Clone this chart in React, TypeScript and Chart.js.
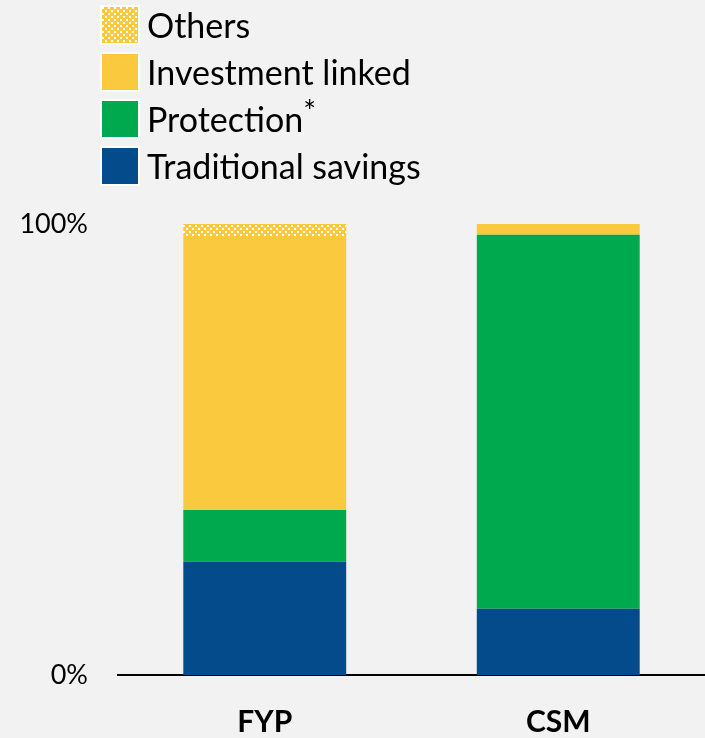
import React, { useEffect, useRef } from "react";
import { Chart, registerables } from "chart.js";

Chart.register(...registerables);

const categories = ["FYP", "CSM"];
const traditionalSavings = [25.1, 14.7];
const protection = [11.5, 82.9];
const investmentLinked = [60.5, 2.4];
const others = [2.9, 0];
const yTicks = [0, 100];

const BLUE = "#034b8b";
const GREEN = "#00a84e";
const YELLOW = "#fbc93d";
const BG = "#f2f2f2";
const FONT = "Lato, 'Open Sans', sans-serif";

function makePatternCanvas(): HTMLCanvasElement {
  const c = document.createElement("canvas");
  c.width = 6;
  c.height = 6;
  const ctx = c.getContext("2d")!;
  ctx.fillStyle = YELLOW;
  ctx.fillRect(0, 0, 6, 6);
  ctx.fillStyle = "#ffffff";
  ctx.fillRect(0, 0, 2, 2);
  ctx.fillRect(3, 3, 2, 2);
  return c;
}

export default function App() {
  const canvasRef = useRef<HTMLCanvasElement | null>(null);
  const othersBoxRef = useRef<HTMLDivElement | null>(null);

  useEffect(() => {
    document.body.style.margin = "0";
    document.body.style.background = BG;
    const patCanvas = makePatternCanvas();
    if (othersBoxRef.current) {
      othersBoxRef.current.style.backgroundImage = `url(${patCanvas.toDataURL()})`;
    }
    const ctx = canvasRef.current!.getContext("2d")!;
    const pattern = ctx.createPattern(patCanvas, "repeat")!;

    const chart = new Chart(ctx, {
      type: "bar",
      data: {
        labels: categories,
        datasets: [
          { label: "Traditional savings", data: traditionalSavings, backgroundColor: BLUE },
          { label: "Protection*", data: protection, backgroundColor: GREEN },
          { label: "Investment linked", data: investmentLinked, backgroundColor: YELLOW },
          { label: "Others", data: others, backgroundColor: pattern as any },
        ],
      },
      options: {
        animation: false,
        responsive: false,
        devicePixelRatio: 1,
        layout: { padding: { top: 224, left: 0, right: 0, bottom: 0 } },
        plugins: {
          legend: { display: false },
          tooltip: { enabled: false },
        },
        datasets: {
          bar: { categoryPercentage: 0.555, barPercentage: 1, borderWidth: 0 },
        },
        scales: {
          x: {
            stacked: true,
            grid: { display: false, drawTicks: false },
            border: { display: true, color: "#000", width: 2 },
            ticks: {
              color: "#000",
              padding: 29,
              font: { family: FONT, size: 30, weight: "bold" },
            },
            afterFit: (scale: any) => {
              scale.height = 63;
            },
          },
          y: {
            stacked: true,
            min: 0,
            max: 100,
            grid: { display: false, drawTicks: false },
            border: { display: false },
            afterBuildTicks: (scale: any) => {
              scale.ticks = yTicks.map((v) => ({ value: v }));
            },
            ticks: {
              color: "#000",
              padding: 30,
              font: { family: FONT, size: 27 },
              callback: (v: any) => `${v}%`,
            },
            afterFit: (scale: any) => {
              scale.width = 118;
            },
          },
        },
      },
    });
    return () => chart.destroy();
  }, []);

  const legendItems = [
    { label: "Others", color: YELLOW, pattern: true },
    { label: "Investment linked", color: YELLOW },
    { label: "Protection", color: GREEN, star: true },
    { label: "Traditional savings", color: BLUE },
  ];

  return (
    <div style={{ position: "relative", width: 705, height: 738, background: BG, fontFamily: FONT }}>
      <canvas ref={canvasRef} width={705} height={738} style={{ display: "block" }} />
      {legendItems.map((it, i) => (
        <div
          key={it.label}
          style={{
            position: "absolute",
            left: 100,
            top: 5 + i * 47,
            height: 40,
            display: "flex",
            alignItems: "center",
          }}
        >
          <div
            ref={it.pattern ? othersBoxRef : undefined}
            style={{
              width: 36,
              height: 36,
              background: it.pattern ? undefined : it.color,
              border: "2px solid #ffffff",
              boxSizing: "content-box",
              flex: "none",
            }}
          />
          <span
            style={{
              marginLeft: 7,
              fontSize: 34,
              color: "#000",
              lineHeight: "40px",
              whiteSpace: "nowrap",
            }}
          >
            {it.label}
            {it.star ? (
              <span style={{ fontSize: 30, position: "relative", top: -10, lineHeight: 0 }}>*</span>
            ) : null}
          </span>
        </div>
      ))}
    </div>
  );
}
